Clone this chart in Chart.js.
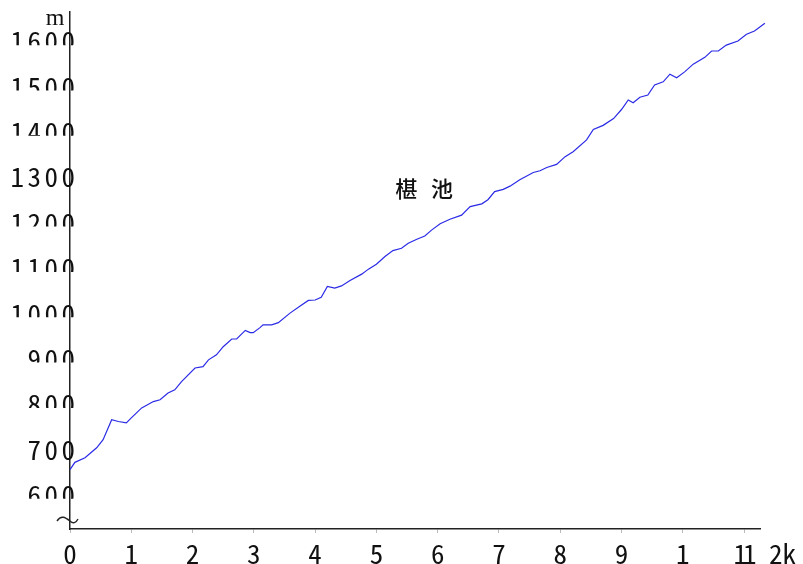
<!DOCTYPE html>
<html>
<head>
<meta charset="utf-8">
<script src="https://cdn.jsdelivr.net/npm/chart.js@4.4.1/dist/chart.umd.min.js"></script>
<style>
  html, body { margin: 0; padding: 0; background: #ffffff; }
  #wrap { width: 803px; height: 564px; overflow: hidden; }
</style>
</head>
<body>
<div id="wrap"><canvas id="c" width="803" height="564"></canvas></div>
<script>
// Longitudinal profile: distance along the route (km) vs elevation (m)
const distanceKm = [
  0, 0.08, 0.245, 0.435, 0.54, 0.68, 0.79, 0.92, 1.0, 1.17,
  1.36, 1.47, 1.6, 1.71, 1.82, 2.04, 2.17, 2.26, 2.39, 2.5,
  2.64, 2.72, 2.86, 2.94, 2.99, 3.1, 3.15, 3.29, 3.4, 3.59,
  3.75, 3.89, 4.0, 4.1, 4.2, 4.32, 4.43, 4.57, 4.76, 4.87,
  5.0, 5.14, 5.27, 5.41, 5.52, 5.66, 5.79, 5.9, 6.04, 6.2,
  6.39, 6.53, 6.72, 6.82, 6.93, 7.07, 7.18, 7.34, 7.56, 7.67,
  7.78, 7.94, 8.08, 8.21, 8.43, 8.54, 8.7, 8.87, 9.0, 9.11,
  9.19, 9.3, 9.43, 9.54, 9.68, 9.79, 9.9, 10.03, 10.17, 10.36,
  10.47, 10.58, 10.71, 10.9, 11.04, 11.17, 11.34
];
const elevationM = [
  631, 647, 657, 679, 697, 741, 737, 734, 745, 767,
  781, 785, 800, 807, 825, 855, 858, 873, 884, 902,
  919, 919, 938, 933, 933, 944, 950, 950, 955, 976,
  991, 1004, 1005, 1011, 1035, 1031, 1036, 1048, 1062, 1073,
  1084, 1101, 1114, 1119, 1130, 1139, 1146, 1159, 1173, 1183,
  1192, 1211, 1217, 1226, 1244, 1249, 1256, 1270, 1286, 1290,
  1297, 1304, 1321, 1332, 1358, 1381, 1390, 1405, 1425, 1446,
  1440, 1452, 1457, 1479, 1486, 1503, 1495, 1508, 1525, 1540,
  1554, 1554, 1567, 1576, 1591, 1598, 1615
];
const xTickValues = [0, 1, 2, 3, 4, 5, 6, 7, 8, 9, 10, 11];
const xTickLabels = ['0', '1', '2', '3', '4', '5', '6', '7', '8', '9', '1', '11'];
const yTickValues = [600, 700, 800, 900, 1000, 1100, 1200, 1300, 1400, 1500, 1600];
const yTickLabels = ['600', '700', '800', '900', '1000', '1100', '1200', '1300', '1400', '1500', '1600'];
const routeName = ['椹', '池'];
const yUnit = 'm';
const xUnit = '2k';

const monoFamily = '"Noto Sans Mono CJK JP", "Liberation Mono", "DejaVu Sans Mono", monospace';
// labels whose box shows the full glyph height; the rest are cut short by their text box
const fullHeightLabels = new Set(['700', '1300']);

// Axis labels drawn by hand so their spacing and boxes can be controlled
const axisLabels = {
  id: 'axisLabels',
  afterDraw(chart) {
    const ctx = chart.ctx;
    const ys = chart.scales.y, xs = chart.scales.x;
    ctx.save();
    ctx.fillStyle = '#111';
    ctx.font = '27px ' + monoFamily;
    ctx.textBaseline = 'middle';

    // vertical axis: spaced-out digits, right edge just over the axis line
    ctx.textAlign = 'right';
    ctx.letterSpacing = '3.5px';
    yTickValues.forEach((v, i) => {
      const py = ys.getPixelForValue(v);
      const label = yTickLabels[i];
      const boxH = fullHeightLabels.has(label) ? 24 : 15;
      ctx.save();
      ctx.beginPath();
      ctx.rect(0, py - 2, xs.left + 6, boxH + 2);
      ctx.clip();
      ctx.fillText(label, xs.left + 8.5, py + 11);
      ctx.restore();
    });

    // horizontal axis: digits centred under each tick, multi-digit labels set tight
    ctx.textAlign = 'center';
    const labelY = ys.bottom + 25;
    xTickValues.forEach((v, i) => {
      const px = xs.getPixelForValue(v);
      const label = xTickLabels[i];
      if (label.length > 1) {
        ctx.letterSpacing = '-4px';
        ctx.fillText(label, px - 1, labelY);
      } else {
        ctx.letterSpacing = '0px';
        ctx.fillText(label, px, labelY);
      }
    });
    ctx.letterSpacing = '0px';
    ctx.textAlign = 'left';
    ctx.fillText(xUnit, xs.right + 9, labelY);
    ctx.restore();
  }
};

// Extra annotations: unit caption, axis break mark, route name
const decorations = {
  id: 'decorations',
  afterDraw(chart) {
    const ctx = chart.ctx;
    const xs = chart.scales.x, ys = chart.scales.y;
    ctx.save();
    ctx.fillStyle = '#111';
    ctx.font = '24px "Liberation Serif", serif';
    ctx.textAlign = 'center';
    ctx.textBaseline = 'alphabetic';
    ctx.fillText(yUnit, xs.left - 15, ys.top + 13);
    // break mark at the foot of the vertical axis
    const bx = xs.left, by = ys.bottom - 9;
    ctx.strokeStyle = '#222';
    ctx.lineWidth = 1.4;
    ctx.beginPath();
    ctx.moveTo(bx - 13, by + 1);
    ctx.bezierCurveTo(bx - 9, by - 5, bx - 5, by - 3, bx, by + 1);
    ctx.bezierCurveTo(bx + 3, by + 4, bx + 6, by + 3, bx + 8, by - 1);
    ctx.stroke();
    // route name
    ctx.font = '500 22px "Noto Sans CJK SC", "Noto Sans CJK JP", sans-serif';
    ctx.textAlign = 'center';
    ctx.textBaseline = 'middle';
    const cy = ys.getPixelForValue(1250);
    ctx.fillText(routeName[0], xs.getPixelForValue(5.49), cy);
    ctx.fillText(routeName[1], xs.getPixelForValue(6.07), cy);
    ctx.restore();
  }
};

new Chart(document.getElementById('c'), {
  type: 'line',
  data: {
    datasets: [{
      data: distanceKm.map((d, i) => ({ x: d, y: elevationM[i] })),
      borderColor: '#2a2ae6',
      borderWidth: 1.2,
      pointRadius: 0,
      tension: 0,
      fill: false,
      clip: false
    }]
  },
  options: {
    responsive: false,
    animation: false,
    devicePixelRatio: 1,
    layout: { padding: { top: 12, right: 43, left: 0, bottom: 0 } },
    plugins: { legend: { display: false }, tooltip: { enabled: false } },
    scales: {
      x: {
        type: 'linear',
        min: 0,
        max: 11.26,
        afterFit(scale) { scale.height = 35; },
        afterBuildTicks(scale) { scale.ticks = xTickValues.map(v => ({ value: v })); },
        border: { display: true, color: '#222', width: 1.5 },
        grid: { display: true, drawOnChartArea: false, drawTicks: true, tickLength: 4, tickColor: '#bbbbbb' },
        ticks: { display: false }
      },
      y: {
        type: 'linear',
        min: 500,
        max: 1640,
        afterFit(scale) { scale.width = 70; },
        afterBuildTicks(scale) { scale.ticks = yTickValues.map(v => ({ value: v })); },
        border: { display: true, color: '#222', width: 1.5 },
        grid: { display: false, drawTicks: false },
        ticks: { display: false }
      }
    }
  },
  plugins: [axisLabels, decorations]
});
</script>
</body>
</html>
